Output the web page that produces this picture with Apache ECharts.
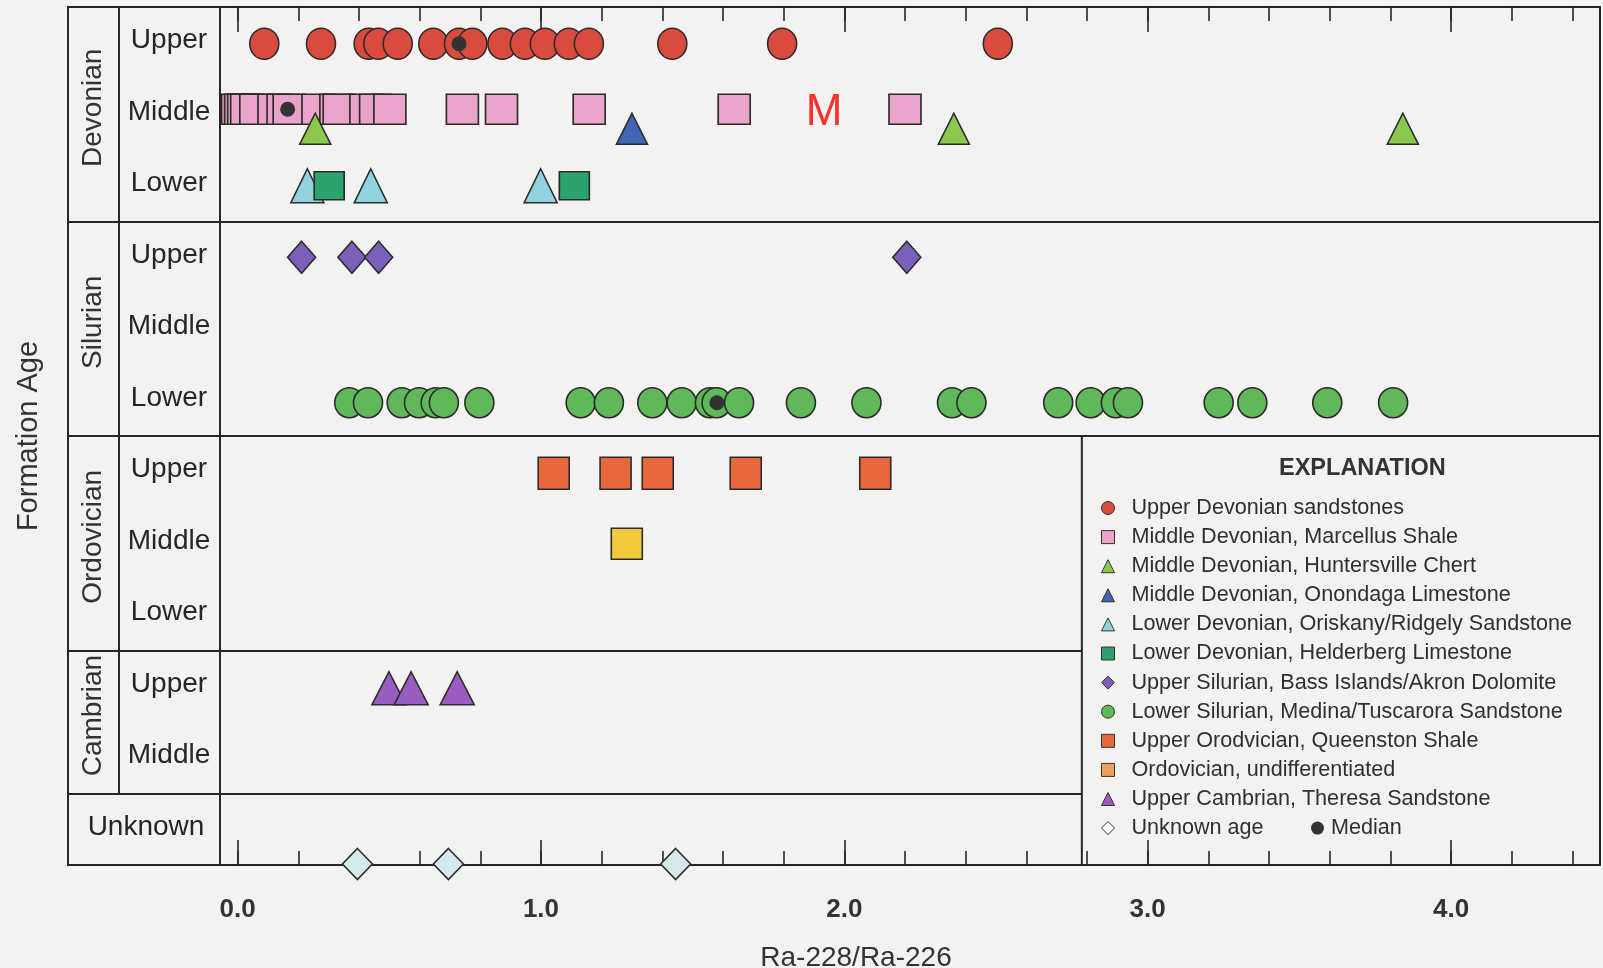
<!DOCTYPE html>
<html>
<head>
<meta charset="utf-8">
<title>Ra-228/Ra-226 by formation age</title>
<script src="https://cdn.jsdelivr.net/npm/echarts@6/dist/echarts.min.js"></script>
<style>
  html, body { margin: 0; padding: 0; background: #f3f2f0; }
  #chart { width: 1603px; height: 968px; }
</style>
</head>
<body>
<div id="chart"></div>
<script>
// ---- Table rows (top to bottom) ----
const epochLabels = ['Upper', 'Middle', 'Lower', 'Upper', 'Middle', 'Lower',
                     'Upper', 'Middle', 'Lower', 'Upper', 'Middle', 'Unknown'];
const periodLabels = ['Devonian', 'Silurian', 'Ordovician', 'Cambrian'];
const periodRowCounts = [3, 3, 3, 2];

// ---- X axis ticks ----
const xTickValues = [0, 1, 2, 3, 4];
const xTickLabels = ['0.0', '1.0', '2.0', '3.0', '4.0'];
const xMinorTickValues = [0, 0.2, 0.4, 0.6, 0.8, 1, 1.2, 1.4, 1.6, 1.8, 2, 2.2, 2.4,
                          2.6, 2.8, 3, 3.2, 3.4, 3.6, 3.8, 4, 4.2, 4.4];

// ---- Ra-228/Ra-226 activity ratios by unit ----
const upperDevonianSandstones = [0.088, 0.275, 0.432, 0.464, 0.528, 0.645, 0.730, 0.774,
                                 0.873, 0.947, 1.013, 1.092, 1.158, 1.433, 1.795, 2.506];
const marcellusShale = [0.00, 0.01, 0.02, 0.03, 0.06, 0.12, 0.15, 0.17, 0.265, 0.324,
                        0.335, 0.423, 0.455, 0.502, 0.741, 0.870, 1.159, 1.637, 2.200];
const huntersvilleChert = [0.256, 2.361, 3.841];
const onondagaLimestone = [1.300];
const oriskanyRidgelySandstone = [0.230, 0.439, 0.999];
const helderbergLimestone = [0.302, 1.110];
const bassIslandsAkronDolomite = [0.211, 0.377, 0.465, 2.206];
const medinaTuscaroraSandstone = [0.368, 0.430, 0.541, 0.598, 0.653, 0.680, 0.797, 1.131,
                                  1.224, 1.367, 1.464, 1.557, 1.579, 1.653, 1.857, 2.073,
                                  2.355, 2.419, 2.705, 2.812, 2.895, 2.935, 3.234, 3.345,
                                  3.592, 3.809];
const queenstonShale = [1.042, 1.246, 1.385, 1.675, 2.102];
const ordovicianUndifferentiated = [1.283];
const theresaSandstone = [0.499, 0.572, 0.724];
const unknownAge = [0.395, 0.695, 1.444];

// Medians, one per unit that has one
const medianUnits = ['Upper Devonian sandstones', 'Middle Devonian, Marcellus Shale',
                     'Lower Silurian, Medina/Tuscarora Sandstone'];
const medianValues = [0.730, 0.165, 1.580];

// Unit -> table row
const units = [
  { name: 'Upper Devonian sandstones',                    row: 0,  values: upperDevonianSandstones },
  { name: 'Middle Devonian, Marcellus Shale',             row: 1,  values: marcellusShale },
  { name: 'Middle Devonian, Huntersville Chert',          row: 1,  values: huntersvilleChert },
  { name: 'Middle Devonian, Onondaga Limestone',          row: 1,  values: onondagaLimestone },
  { name: 'Lower Devonian, Oriskany/Ridgely Sandstone',   row: 2,  values: oriskanyRidgelySandstone },
  { name: 'Lower Devonian, Helderberg Limestone',         row: 2,  values: helderbergLimestone },
  { name: 'Upper Silurian, Bass Islands/Akron Dolomite',  row: 3,  values: bassIslandsAkronDolomite },
  { name: 'Lower Silurian, Medina/Tuscarora Sandstone',   row: 5,  values: medinaTuscaroraSandstone },
  { name: 'Upper Orodvician, Queenston Shale',            row: 6,  values: queenstonShale },
  { name: 'Ordovician, undifferentiated',                 row: 7,  values: ordovicianUndifferentiated },
  { name: 'Upper Cambrian, Theresa Sandstone',            row: 9,  values: theresaSandstone },
  { name: 'Unknown age',                                  row: 11, values: unknownAge }
];

// ---- Styling ----
const BG = '#f3f2f0';
const INK = '#262626';
const SANS = '"Liberation Sans", Arial, sans-serif';
const ELLIPSE = 'path://M0,15A15,15 0 1 1 30,15A15,15 0 1 1 0,15Z';

// symbol, size [w,h], fill, vertical nudge within the row (px)
const unitStyles = {
  'Upper Devonian sandstones':                   { symbol: ELLIPSE,    size: [29, 31], color: '#da4a3e', dy: 1 },
  'Middle Devonian, Marcellus Shale':            { symbol: 'rect',     size: [32, 30], color: '#eaa3ca', dy: -5 },
  'Middle Devonian, Huntersville Chert':         { symbol: 'triangle', size: [31, 31], color: '#8dc84e', dy: 14.5 },
  'Middle Devonian, Onondaga Limestone':         { symbol: 'triangle', size: [31, 31], color: '#4264b5', dy: 14.5 },
  'Lower Devonian, Oriskany/Ridgely Sandstone':  { symbol: 'triangle', size: [33, 34], color: '#8fd3df', dy: 0 },
  'Lower Devonian, Helderberg Limestone':        { symbol: 'rect',     size: [30, 28], color: '#2aa46c', dy: 0 },
  'Upper Silurian, Bass Islands/Akron Dolomite': { symbol: 'diamond',  size: [28, 32], color: '#7c5fb9', dy: 0 },
  'Lower Silurian, Medina/Tuscarora Sandstone':  { symbol: ELLIPSE,    size: [29, 30], color: '#5fb95a', dy: 2.5 },
  'Upper Orodvician, Queenston Shale':           { symbol: 'rect',     size: [31, 32], color: '#e9673d', dy: 1.5 },
  'Ordovician, undifferentiated':                { symbol: 'rect',     size: [31, 31], color: '#f1cb3c', dy: 0.5 },
  'Upper Cambrian, Theresa Sandstone':           { symbol: 'triangle', size: [34, 33], color: '#9b5cc1', dy: 2 },
  'Unknown age':                                 { symbol: 'diamond',  size: [30, 31], color: '#d5e8ee', dy: 34.75 }
};

// Axis extents and table rules, in axis units
const X_MIN = -0.559, X_MAX = 4.491;
const PLOT_EDGE_X = -0.058;      // rule between row labels and plotting field
const PERIOD_COLUMN_X = -0.393;  // rule between period and epoch columns
const LEGEND_BOX_X = 2.783;      // left side of the explanation box
const EPOCH_LABEL_LIFT = 0.03;   // row labels sit a touch above row centres
const PERIOD_LABEL_LIFT = 0.09;

// Drawing order
const Z_RULES = 1, Z_BOX = 1.5, Z_AXIS = 2, Z_MARKS = 3, Z_MEDIAN = 4, Z_KEY = 20;

// Period boundaries / centres from row counts
const periodBounds = [];
const periodCentres = [];
let acc = 0;
periodRowCounts.forEach(n => { periodCentres.push(acc + n / 2); acc += n; periodBounds.push(acc); });

const seriesList = [];

// Table rules
seriesList.push({
  name: 'rules', type: 'scatter', data: [], silent: true, z: Z_RULES,
  markLine: {
    z: Z_RULES, silent: true, animation: false, symbol: ['none', 'none'],
    label: { show: false },
    lineStyle: { color: INK, width: 2, type: 'solid' },
    data: [
      { xAxis: PLOT_EDGE_X },
      [{ coord: [PERIOD_COLUMN_X, 0] }, { coord: [PERIOD_COLUMN_X, periodBounds[periodBounds.length - 1]] }]
    ].concat(periodBounds.map(b => ({ yAxis: b })))
  }
});

// Explanation box
seriesList.push({
  name: 'explanation box', type: 'scatter', data: [], silent: true, z: Z_BOX,
  markArea: {
    z: Z_BOX, silent: true, animation: false,
    itemStyle: { color: BG, opacity: 1, borderColor: INK, borderWidth: 2 },
    data: [[{ coord: [LEGEND_BOX_X, periodBounds[1]] }, { coord: [X_MAX, epochLabels.length] }]]
  }
});

// Data series
units.forEach(u => {
  const s = unitStyles[u.name];
  seriesList.push({
    name: u.name, type: 'scatter', z: Z_MARKS,
    symbol: s.symbol, symbolSize: s.size, symbolOffset: [0, s.dy],
    itemStyle: { color: s.color, borderColor: '#2b2b2b', borderWidth: 1.6, opacity: 1 },
    data: u.values.map(v => [v, u.row + 0.5])
  });
});

// Medians
seriesList.push({
  name: 'Median', type: 'scatter', z: Z_MEDIAN,
  symbol: 'circle', symbolSize: 15,
  itemStyle: { color: '#333333', opacity: 1 },
  data: medianUnits.map((n, i) => {
    const u = units.find(x => x.name === n);
    return { value: [medianValues[i], u.row + 0.5], symbolOffset: [0, unitStyles[n].dy] };
  })
});

// Annotation letter
seriesList.push({
  name: 'note', type: 'scatter', z: Z_MEDIAN, symbolSize: 0, silent: true,
  data: [[1.933, 1.5]],
  label: { show: true, position: 'inside', formatter: 'M', color: '#ff0000',
           fontSize: 44, fontFamily: SANS, offset: [0, -1] }
});

function xAxisBase(position, values, length) {
  return {
    type: 'value', min: X_MIN, max: X_MAX, position: position, z: Z_AXIS,
    axisLine: { show: false, onZero: false },
    splitLine: { show: false },
    axisLabel: { show: false },
    axisTick: { show: true, inside: true, length: length, customValues: values,
                lineStyle: { color: INK, width: 1.6 } }
  };
}

const xMajorBottom = xAxisBase('bottom', xTickValues, 25);
xMajorBottom.axisLabel = {
  show: true, customValues: xTickValues, margin: 32,
  formatter: v => xTickLabels[xTickValues.indexOf(v)],
  fontSize: 26, fontWeight: 'bold', fontFamily: SANS, color: '#333'
};
xMajorBottom.name = 'Ra-228/Ra-226';
xMajorBottom.nameLocation = 'middle';
xMajorBottom.nameGap = 79;
xMajorBottom.nameTextStyle = { fontSize: 28, fontFamily: SANS, color: '#333', padding: [0, 0, 0, 44] };

const option = {
  backgroundColor: BG,
  animation: false,
  grid: {
    left: 68, right: 3, top: 7, bottom: 103,
    containLabel: false, outerBoundsMode: 'none',
    show: true, borderColor: INK, borderWidth: 2, backgroundColor: 'transparent'
  },
  title: {
    text: 'EXPLANATION', left: 1274, top: 452, z: Z_KEY,
    textStyle: { fontSize: 23.5, fontWeight: 'bold', fontFamily: SANS, color: '#333' }
  },
  xAxis: [
    xMajorBottom,
    xAxisBase('bottom', xMinorTickValues, 14),
    xAxisBase('top', xTickValues, 25),
    xAxisBase('top', xMinorTickValues, 14)
  ],
  yAxis: [
    {
      type: 'value', min: 0, max: epochLabels.length, inverse: true, position: 'left',
      axisLine: { show: false, onZero: false }, axisTick: { show: false }, splitLine: { show: false },
      name: 'Formation Age', nameLocation: 'middle', nameGap: 25,
      nameTextStyle: { fontSize: 29, fontFamily: SANS, color: '#333' },
      axisLabel: {
        inside: true, margin: 101, align: 'center', verticalAlign: 'middle',
        customValues: epochLabels.map((_, i) => i + 0.5 - EPOCH_LABEL_LIFT),
        formatter: v => {
          const i = Math.round(v + EPOCH_LABEL_LIFT - 0.5);
          return i === epochLabels.length - 1 ? '{u|' + epochLabels[i] + '}' : epochLabels[i];
        },
        fontSize: 28, fontFamily: SANS, color: INK,
        rich: { u: { fontSize: 28, fontFamily: SANS, color: INK, padding: [0, 46, 0, 0] } }
      }
    },
    {
      type: 'value', min: 0, max: epochLabels.length, inverse: true, position: 'left', offset: 0,
      axisLine: { show: false, onZero: false }, axisTick: { show: false }, splitLine: { show: false },
      axisLabel: {
        inside: true, margin: 25, rotate: 90, align: 'center', verticalAlign: 'middle',
        customValues: periodCentres.map(c => c - PERIOD_LABEL_LIFT),
        formatter: v => periodLabels[periodCentres.findIndex(c => Math.abs(c - PERIOD_LABEL_LIFT - v) < 1e-6)],
        fontSize: 28, fontFamily: SANS, color: '#333'
      }
    }
  ],
  legend: [
    {
      data: units.map(u => {
        if (u.name === 'Unknown age') return { name: u.name, itemStyle: { color: '#ffffff' } };
        if (u.name === 'Ordovician, undifferentiated') return { name: u.name, itemStyle: { color: '#eba25a' } };
        return { name: u.name };
      }),
      orient: 'vertical', left: 1101, top: 497, padding: 0, z: Z_KEY,
      itemWidth: 13, itemHeight: 13, itemGap: 7.1, selectedMode: false,
      itemStyle: { borderWidth: 1, borderColor: '#333' },
      textStyle: { fontSize: 21.6, lineHeight: 22, fontFamily: SANS, color: '#2f2f2f', padding: [0, 0, 0, 12] }
    },
    {
      data: ['Median'],
      orient: 'vertical', left: 1311, top: 497 + 11 * 29.1, padding: 0, z: Z_KEY,
      itemWidth: 13, itemHeight: 13, selectedMode: false,
      textStyle: { fontSize: 21.6, lineHeight: 22, fontFamily: SANS, color: '#2f2f2f', padding: [0, 0, 0, 2] }
    }
  ],
  series: seriesList
};

const chart = echarts.init(document.getElementById('chart'), null, { renderer: 'canvas' });
chart.setOption(option);
</script>
</body>
</html>
